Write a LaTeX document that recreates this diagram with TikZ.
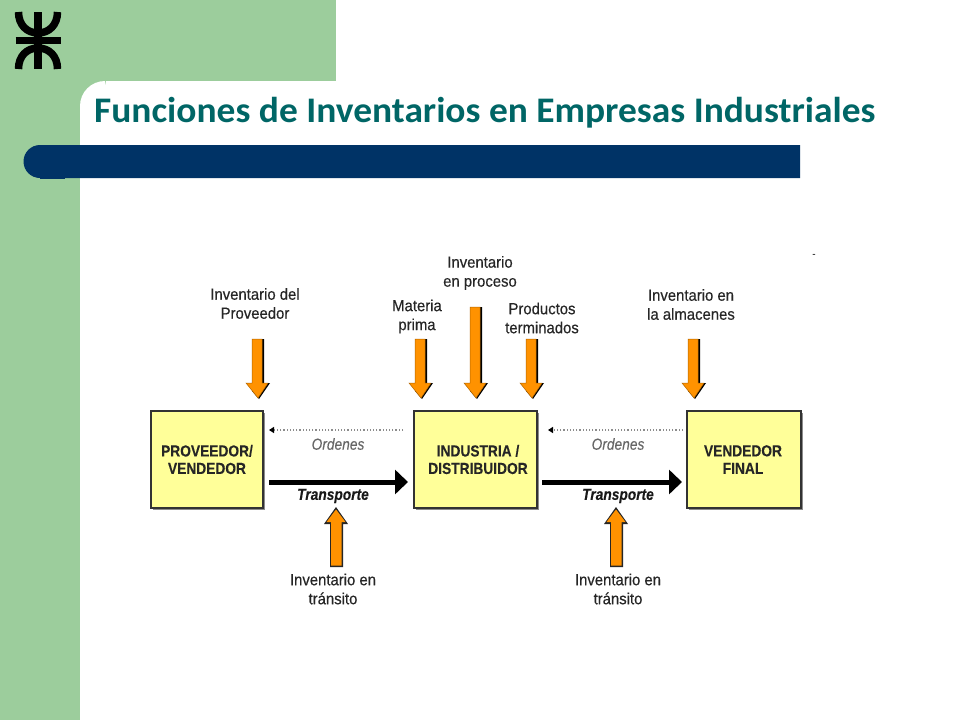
\documentclass[tikz,border=0pt]{standalone}
\usepackage{fontspec}
\setmainfont{Liberation Sans}
\newfontfamily\titlefont{Carlito}[FakeStretch=1.04]
\newfontfamily\narrowfont{Liberation Sans}[FakeStretch=0.86,FakeBold=0.08]
\newfontfamily\labelfont{Liberation Sans}[FakeStretch=0.93,FakeBold=0.35]
\usetikzlibrary{arrows.meta}
\definecolor{slidegreen}{RGB}{156,205,156}
\definecolor{slidenavy}{RGB}{0,51,102}
\definecolor{slideteal}{RGB}{0,102,102}
\definecolor{boxyellow}{RGB}{255,255,153}
\definecolor{arroworange}{RGB}{255,146,0}
\definecolor{labelgrey}{RGB}{38,38,38}
\tikzset{
  x=1pt,y=-1pt,
  boxnode/.style={draw=black!80,line width=1.1pt,fill=boxyellow,minimum width=#1,minimum height=97pt,inner sep=0pt},
  lab/.style={align=center,inner sep=0pt,text=labelgrey,font=\labelfont\fontsize{16}{19}\selectfont},
  boxlab/.style={align=center,inner sep=0pt,text=labelgrey,font=\narrowfont\bfseries\fontsize{16}{17.5}\selectfont},
  ordlab/.style={inner sep=0pt,text=black!60,font=\narrowfont\itshape\fontsize{16}{16}\selectfont},
  translab/.style={inner sep=0pt,text=black!90,font=\narrowfont\bfseries\itshape\fontsize{16}{16}\selectfont},
  thickarrow/.style={line width=5pt,-{Triangle[length=13pt,width=24pt]},black},
  dotarrow/.style={line width=1.2pt,black!45,dotted,-{Triangle[length=5pt,width=6pt,black]}},
}
% down block arrow: #1 centre x, #2 top y, #3 tip y
\newcommand{\downblock}[3]{%
  \fill[black] (#1-3.5,#2) -- (#1+6,#2) -- (#1+6,#3-16) -- (#1+12,#3-16) -- (#1+1,#3) -- (#1-6,#3-8) -- cycle;
  \draw[fill=arroworange,draw=arroworange!70!black,line width=.5pt] (#1-6,#2) -- (#1+4,#2) -- (#1+4,#3-16) -- (#1+10,#3-16) -- (#1,#3-1) -- (#1-12,#3-16) -- (#1-6,#3-16) -- cycle;
}
% up block arrow: #1 centre x, #2 tip y, #3 bottom y
\newcommand{\upblock}[3]{%
  \fill[black!85] (#1-6,#3) -- (#1+7,#3) -- (#1+7,#2+17) -- (#1+12,#2+17) -- (#1,#2) -- (#1-12,#2+17) -- (#1-6,#2+17) -- cycle;
  \fill[arroworange] (#1-5,#3-1.5) -- (#1+5.5,#3-1.5) -- (#1+5.5,#2+15) -- (#1+9.5,#2+15) -- (#1,#2+2.5) -- (#1-9.5,#2+15) -- (#1-5,#2+15) -- cycle;
}
\begin{document}
\begin{tikzpicture}
\useasboundingbox (0,0) rectangle (960,720);
\fill[white] (0,0) rectangle (960,720);
% slide frame
\fill[slidegreen] (0,0) rectangle (336,81);
\fill[slidegreen] (0,0) rectangle (80,720);
\fill[slidegreen] (80,81) rectangle (106,106);
\fill[white] (80,106) arc[start angle=180,end angle=270,radius=25] -- (110,106) -- cycle;
\fill[slidenavy] (800,145) -- (40,145) arc[start angle=-90,end angle=-270,radius=16.5] -- (800,178) -- cycle;
\fill[slidenavy] (40,177) rectangle (65,178.6);
% logo
\begin{scope}[black,line width=7.5pt]
  \draw (15.5,40.5) -- (60.5,40.5);
  \draw (38,12) -- (38,69);
  \draw (18.5,12) .. controls (18.5,25) and (27,33) .. (38,33);
  \draw (57.5,12) .. controls (57.5,25) and (49,33) .. (38,33);
  \draw (18.5,69) .. controls (18.5,56) and (27,48) .. (38,48);
  \draw (57.5,69) .. controls (57.5,56) and (49,48) .. (38,48);
\end{scope}
\node[anchor=west,inner sep=0pt,text=slideteal,font=\titlefont\bfseries\fontsize{36}{40}\selectfont] (title) at (94,113) {Funciones de Inventarios en Empresas Industriales};
\node[inner sep=0pt,font=\fontsize{10}{11}\selectfont,text=black] (dash) at (814,256) {-};
% boxes
\fill[black!45] (153,413) rectangle (265,510);
\fill[black!45] (416,413) rectangle (539,510);
\fill[black!45] (689,413) rectangle (803,510);
\node[boxnode=112pt] (prov) at (207,459.5) {};
\node[boxnode=123pt] (ind) at (475.5,459.5) {};
\node[boxnode=114pt] (vend) at (744,459.5) {};
\node[boxlab] (provt) at (207,459.5) {PROVEEDOR/\\VENDEDOR};
\node[boxlab] (indt) at (478,459.5) {INDUSTRIA /\\DISTRIBUIDOR};
\node[boxlab] (vendt) at (743,459.5) {VENDEDOR\\FINAL};
% block arrows
\downblock{258}{339}{399}
\downblock{421}{339}{399}
\downblock{476}{307}{399}
\downblock{532}{339}{399}
\downblock{694}{339}{399}
\upblock{336}{507}{567}
\upblock{616}{507}{567}
% horizontal connectors
\coordinate (a1) at (269,482); \coordinate (a2) at (408,482);
\coordinate (b1) at (542,482); \coordinate (b2) at (682,482);
\coordinate (c1) at (403,430); \coordinate (c2) at (269,430);
\coordinate (d1) at (683,430); \coordinate (d2) at (548,430);
\draw[thickarrow] (a1) -- (a2);
\draw[thickarrow] (b1) -- (b2);
\draw[dotarrow] (c1) -- (c2);
\draw[dotarrow] (d1) -- (d2);
% labels
\node[ordlab] (o1) at (338,444) {Ordenes};
\node[ordlab] (o2) at (618,444) {Ordenes};
\node[translab] (t1) at (333,496) {Transporte};
\node[translab] (t2) at (618,496) {Transporte};
\node[lab] (l1) at (255,303.5) {Inventario del\\Proveedor};
\node[lab] (l2) at (417,316.5) {Materia\\prima};
\node[lab] (l3) at (480,273) {Inventario\\en proceso};
\node[lab] (l4) at (542,318) {Productos\\terminados};
\node[lab] (l5) at (691,304.5) {Inventario en\\la almacenes};
\node[lab] (l6) at (333,589) {Inventario en\\tránsito};
\node[lab] (l7) at (618,589) {Inventario en\\tránsito};
\end{tikzpicture}
\end{document}
